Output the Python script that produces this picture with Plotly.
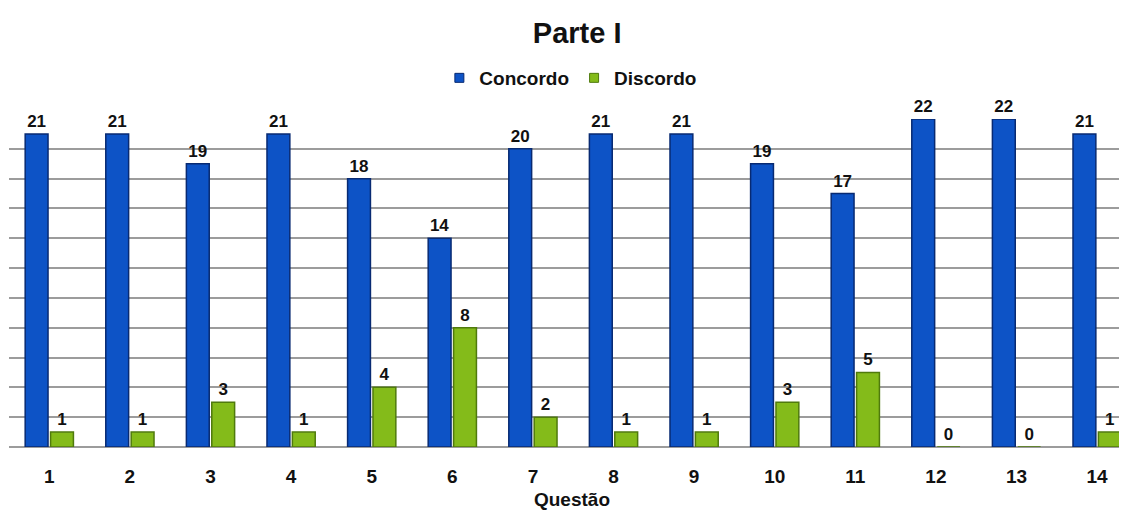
import plotly.graph_objects as go

questoes = [str(i) for i in range(1, 15)]
concordo = [21, 21, 19, 21, 18, 14, 20, 21, 21, 19, 17, 22, 22, 21]
discordo = [1, 1, 3, 1, 4, 8, 2, 1, 1, 3, 5, 0, 0, 1]
x = list(range(1, 15))

FONT = "Liberation Sans, Arial"
BLUE, BLUE_EDGE = "#0d53c6", "#082a72"
GREEN, GREEN_EDGE = "#84bb1a", "#4f7a0c"

fig = go.Figure()
fig.add_trace(go.Bar(
    x=x, y=concordo, name="Concordo", showlegend=False,
    marker=dict(color=BLUE, line=dict(color=BLUE_EDGE, width=1.5)),
    text=concordo, texttemplate="<b>%{text}</b>", textposition="outside",
    textfont=dict(family=FONT, size=17, color="#111111"),
    cliponaxis=False,
))
fig.add_trace(go.Bar(
    x=x, y=discordo, name="Discordo", showlegend=False,
    marker=dict(color=GREEN, line=dict(color=GREEN_EDGE, width=1.5)),
    text=discordo, texttemplate="<b>%{text}</b>", textposition="outside",
    textfont=dict(family=FONT, size=17, color="#111111"),
    cliponaxis=False,
))
# legend entries with small square symbols
fig.add_trace(go.Scatter(x=[None], y=[None], mode="markers", name="<b>Concordo</b>",
                         marker=dict(symbol="square", size=9, color=BLUE,
                                     line=dict(color=BLUE_EDGE, width=1))))
fig.add_trace(go.Scatter(x=[None], y=[None], mode="markers", name="<b>Discordo</b>",
                         marker=dict(symbol="square", size=9, color=GREEN,
                                     line=dict(color=GREEN_EDGE, width=1))))

fig.update_layout(
    width=1127, height=512,
    paper_bgcolor="white", plot_bgcolor="white",
    margin=dict(l=1, r=0, t=111, b=73, autoexpand=False),
    barmode="group", bargap=0.37, bargroupgap=0.1,
    title=dict(text="<b>Parte I</b>", x=0.505, xanchor="center", y=0.951, yanchor="middle",
               font=dict(family=FONT, size=29, color="#111111")),
    legend=dict(orientation="h", x=0.499, xanchor="center", y=1.125, yanchor="middle",
                font=dict(family=FONT, size=19, color="#111111"),
                itemwidth=30, traceorder="normal", tracegroupgap=0),
    showlegend=True,
)
fig.update_xaxes(
    range=[0.5, 14.47], tickmode="array", tickvals=x,
    ticktext=[f"<b>{q}</b>" for q in questoes],
    tickfont=dict(family=FONT, size=19, color="#111111"),
    ticks="", ticklabelstandoff=16, showgrid=False, zeroline=False, showline=False,
    title=dict(text="<b>Questão</b>", standoff=6,
               font=dict(family=FONT, size=19, color="#111111")),
)
fig.update_yaxes(
    range=[0, 22], dtick=2, showticklabels=False, showgrid=True,
    gridcolor="#9c9c9c", gridwidth=1.6, zeroline=True, zerolinecolor="#9c9c9c",
    zerolinewidth=1.6, showline=False,
)
fig.write_html("out.html")
